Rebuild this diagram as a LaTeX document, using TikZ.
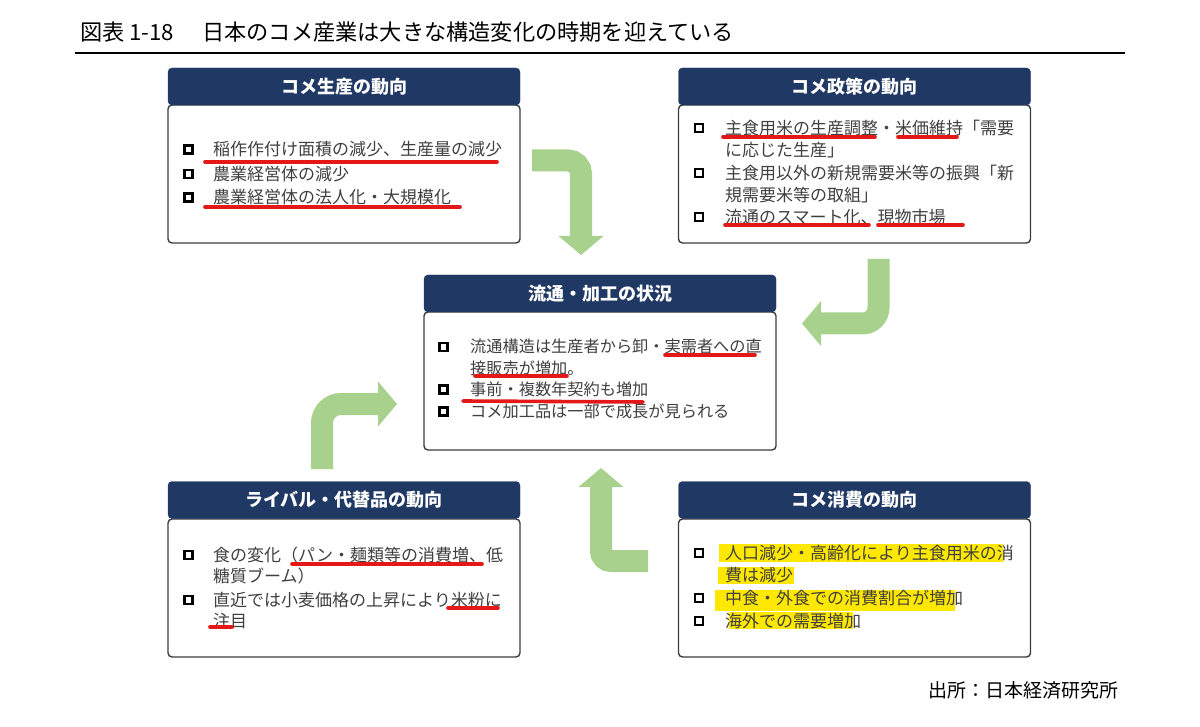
\documentclass[tikz,border=0pt]{standalone}
\usepackage{fontspec}
\setmainfont{Noto Sans CJK JP}
\usetikzlibrary{arrows.meta}
\definecolor{navy}{RGB}{32,56,100}
\definecolor{frame}{RGB}{60,60,60}
\definecolor{bodytext}{RGB}{64,64,64}
\definecolor{leaf}{RGB}{169,209,142}
\definecolor{redline}{RGB}{228,24,24}
\definecolor{hilite}{RGB}{255,232,0}

\begin{document}
\begin{tikzpicture}[x=1pt,y=-1pt]
\tikzstyle{panelhead}=[rounded corners=4pt,draw=navy,fill=navy,text=white,minimum width=352pt,minimum height=37pt,inner sep=0pt,font=\fontsize{18}{20}\selectfont\bfseries]
\tikzstyle{panelbody}=[rounded corners=4pt,draw=frame,line width=1.4pt,fill=white,minimum width=352pt,minimum height=138pt]
\tikzstyle{bul}=[draw=black,line width=2.8pt,minimum size=8pt,inner sep=0pt]
\tikzstyle{txt}=[anchor=base west,inner sep=0pt,text=bodytext,font=\fontsize{17}{20}\selectfont]
\tikzstyle{txtsm}=[txt,font=\fontsize{16.2}{19}\selectfont]
\tikzstyle{ul}=[redline,line width=3.6pt,line cap=round]
\tikzstyle{flow}=[leaf,line width=22pt,-{Triangle[width=45pt,length=19pt,line width=0pt]}]
\useasboundingbox (0,0) rectangle (1200,727);

\node (ttl) at (80,32) [anchor=west,inner sep=0pt,font=\fontsize{22.2}{24}\selectfont]{図表 1-18\hspace{28pt}日本のコメ産業は大きな構造変化の時期を迎えている};
\draw[line width=2pt] (75,53) -- (1125,53);
\node (src) at (1119,690) [anchor=east,inner sep=0pt,font=\fontsize{19}{22}\selectfont]{出所：日本経済研究所};

\node (b1) at (344,174) [panelbody]{};
\node (h1) at (344,86.5) [panelhead]{コメ生産の動向};
\node (b2) at (854.5,174) [panelbody]{};
\node (h2) at (854.5,86.5) [panelhead]{コメ政策の動向};
\node (b3) at (600,381) [panelbody]{};
\node (h3) at (600,293.5) [panelhead]{流通・加工の状況};
\node (b4) at (344,588) [panelbody]{};
\node (h4) at (344,500) [panelhead]{ライバル・代替品の動向};
\node (b5) at (854.5,588) [panelbody]{};
\node (h5) at (854.5,500) [panelhead]{コメ消費の動向};

\fill[hilite] (719,544) rectangle (1003,562);
\fill[hilite] (718,567) rectangle (794,584);
\fill[hilite] (715,590) rectangle (955,611);
\fill[hilite] (729,612) rectangle (853,629);

\node (q11) at (188.5,149.5) [bul]{};
\node (q12) at (188.5,174) [bul]{};
\node (q13) at (188.5,197.5) [bul]{};
\node (t11) at (213,155.8) [txt]{稲作作付け面積の減少、生産量の減少};
\node (t12) at (213,180.3) [txt]{農業経営体の減少};
\node (t13) at (213,203.8) [txt]{農業経営体の法人化・大規模化};

\node (q21) at (699,128) [bul]{};
\node (q22) at (699,173) [bul]{};
\node (q23) at (699,217) [bul]{};
\node (t21) at (725,134.3) [txt]{主食用米の生産調整・米価維持「需要};
\node (t22) at (725,156.3) [txt]{に応じた生産」};
\node (t23) at (725,179.3) [txt]{主食用以外の新規需要米等の振興「新};
\node (t24) at (725,201.3) [txt]{規需要米等の取組」};
\node (t25) at (725,223.3) [txt]{流通のスマート化、現物市場};

\node (q31) at (443.5,347) [bul]{};
\node (q32) at (443.5,389.5) [bul]{};
\node (q33) at (443.5,411.5) [bul]{};
\node (t31) at (470,353) [txtsm]{流通構造は生産者から卸・実需者への直};
\node (t32) at (470,374) [txtsm]{接販売が増加。};
\node (t33) at (470,395.5) [txtsm]{事前・複数年契約も増加};
\node (t34) at (470,417.5) [txtsm]{コメ加工品は一部で成長が見られる};

\node (q41) at (188.5,555) [bul]{};
\node (q42) at (188.5,600) [bul]{};
\node (t41) at (213,561.3) [txt]{食の変化（パン・麺類等の消費増、低};
\node (t42) at (213,582.3) [txt]{糖質ブーム）};
\node (t43) at (213,606.3) [txt]{直近では小麦価格の上昇により米粉に};
\node (t44) at (213,627.3) [txt]{注目};

\node (q51) at (699,553) [bul]{};
\node (q52) at (699,598) [bul]{};
\node (q53) at (699,621) [bul]{};
\node (t51) at (725,559.3) [txt]{人口減少・高齢化により主食用米の消};
\node (t52) at (725,581.3) [txt]{費は減少};
\node (t53) at (725,604.3) [txt]{中食・外食での消費割合が増加};
\node (t54) at (725,627.3) [txt]{海外での需要増加};

\draw[ul] (205,162) -- (497,162);
\draw[ul] (205,207) -- (460,207);
\draw[ul] (723,137) -- (875,137);
\draw[ul] (898,137) -- (957,137);
\draw[ul] (725,225) -- (869,225);
\draw[ul] (878,225) -- (963,225);
\draw[ul] (665,355) -- (755,355);
\draw[ul] (475,376) -- (567,376);
\draw[ul] (463,401) -- (643,402);
\draw[ul] (292,564) -- (482,564);
\draw[ul] (448,608) -- (498,608);
\draw[ul] (210,627) -- (232,627);

\coordinate (a1s) at (532,160.5);
\coordinate (a1e) at (581,255);
\coordinate (a2s) at (878.5,259);
\coordinate (a2e) at (802,323.5);
\coordinate (a3s) at (648,561);
\coordinate (a3e) at (601,468);
\coordinate (a4s) at (322,469);
\coordinate (a4e) at (397,404);
\draw[flow,rounded corners=13pt] (a1s) -| (a1e);
\draw[flow,rounded corners=16pt] (a2s) |- (a2e);
\draw[flow,rounded corners=10pt] (a3s) -| (a3e);
\draw[flow,rounded corners=19pt] (a4s) |- (a4e);
\end{tikzpicture}
\end{document}
